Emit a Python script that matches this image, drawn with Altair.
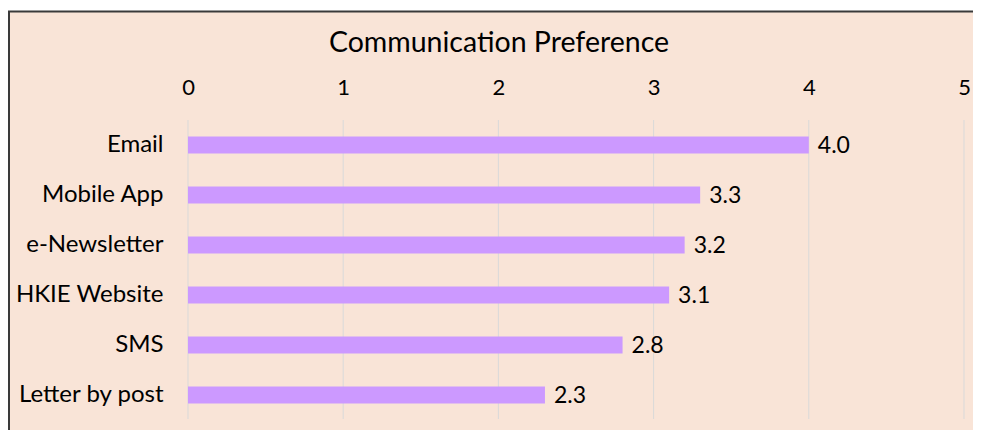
import altair as alt
import pandas as pd

categories = ["Email", "Mobile App", "e-Newsletter", "HKIE Website", "SMS", "Letter by post"]
values = [4.0, 3.3, 3.2, 3.1, 2.8, 2.3]
tick_values = [0, 1, 2, 3, 4, 5]
title_text = "Communication Preference"

df = pd.DataFrame({"channel": categories, "score": values})
df["label"] = [f"{v:.1f}" for v in values]
ticks_df = pd.DataFrame({"score": tick_values})

FONT = "Lato"
PEACH = "#F9E4D7"
BAR = "#CC99FF"
W, H = 776, 300
PAD_L = 180

frame = alt.Chart(pd.DataFrame({"f": [0]})).mark_rect(
    fill=PEACH, stroke="#3A3A3A", strokeWidth=2
).encode(
    x=alt.value(-(PAD_L - 1)), x2=alt.value(W + 40),
    y=alt.value(-108.5), y2=alt.value(H + 40)
)

x_scale = alt.Scale(domain=[0, 5], nice=False)
x_axis = alt.Axis(title=None, orient="top", values=tick_values, format="d",
                  domain=False, ticks=False, tickSize=0, labelPadding=21,
                  labelFlush=False, labelBound=False,
                  grid=False, labelFont=FONT, labelFontSize=22,
                  labelColor="#000000", zindex=1)

grid = alt.Chart(ticks_df).mark_rule(color="#D9D9D9", strokeWidth=1).encode(
    x=alt.X("score:Q", scale=x_scale, axis=x_axis),
    y=alt.value(0), y2=alt.value(H - 1)
)

y_enc = alt.Y("channel:N", sort=categories,
              scale=alt.Scale(paddingInner=0.66, paddingOuter=0.33),
              axis=alt.Axis(title=None, domain=False, ticks=False, labelPadding=25,
                            labelFont=FONT, labelFontSize=24, labelColor="#000000",
                            labelLimit=300, zindex=1))

bars = alt.Chart(df).mark_bar(color=BAR).encode(
    x=alt.X("score:Q", scale=x_scale, axis=x_axis), y=y_enc)
labels = alt.Chart(df).mark_text(
    align="left", baseline="middle", dx=9, dy=1, font=FONT, fontSize=23, color="#000000"
).encode(x="score:Q", y=alt.Y("channel:N", sort=categories), text="label:N")

chart = alt.layer(frame, grid, bars, labels).properties(
    width=W, height=H,
    title=alt.TitleParams(title_text, font=FONT, fontSize=28.5, fontWeight="normal",
                          color="#000000", anchor="middle", dx=-77, offset=-69.5,
                          baseline="alphabetic"),
    autosize=alt.AutoSizeParams(type="none"),
    padding={"left": PAD_L, "top": 112, "right": 9, "bottom": 10},
    background="#FFFFFF",
).configure_view(stroke=None)

chart.save("out.html", embed_options={"renderer": "svg", "actions": False})
